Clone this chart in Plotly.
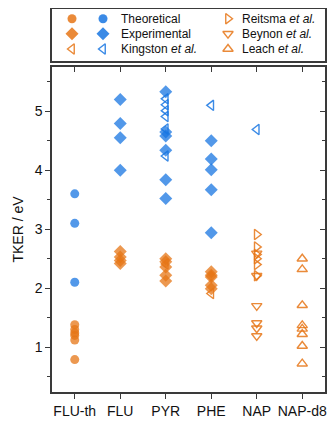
import plotly.graph_objects as go

categories = ["FLU-th", "FLU", "PYR", "PHE", "NAP", "NAP-d8"]
y_ticks = [1, 2, 3, 4, 5]

# Theoretical (circles)
theo_orange_x = ["FLU-th"] * 6
theo_orange_y = [1.38, 1.30, 1.24, 1.20, 1.12, 0.79]
theo_blue_x = ["FLU-th"] * 3
theo_blue_y = [3.60, 3.10, 2.10]

# Experimental (diamonds)
exp_orange_x = ["FLU"] * 4 + ["PYR"] * 5 + ["PHE"] * 5
exp_orange_y = [2.62, 2.53, 2.47, 2.42,
                2.50, 2.45, 2.36, 2.22, 2.12,
                2.28, 2.22, 2.19, 2.05, 1.99]
exp_blue_x = ["FLU"] * 4 + ["PYR"] * 6 + ["PHE"] * 5
exp_blue_y = [5.20, 4.79, 4.55, 4.00,
              5.33, 4.65, 4.58, 4.34, 3.84, 3.52,
              4.50, 4.19, 4.01, 3.67, 2.94]

# Kingston et al. (left triangles)
king_orange_x = ["PYR", "PHE"]
king_orange_y = [2.41, 1.91]
king_blue_x = ["PYR"] * 6 + ["PHE", "NAP"]
king_blue_y = [5.21, 5.11, 5.01, 4.91, 4.70, 4.24, 5.10, 4.69]

# Reitsma et al. (right triangles)
reit_x = ["NAP"] * 6
reit_y = [2.91, 2.70, 2.57, 2.50, 2.40, 2.21]

# Beynon et al. (down triangles)
beyn_x = ["NAP"] * 6
beyn_y = [2.59, 2.21, 1.70, 1.41, 1.32, 1.19]

# Leach et al. (up triangles)
leach_x = ["NAP-d8"] * 8
leach_y = [2.50, 2.32, 1.71, 1.37, 1.31, 1.22, 1.02, 0.72]

ORANGE = "rgb(230,118,22)"
BLUE = "rgb(24,118,226)"
OP = 0.75
FONT = "Liberation Sans, Arial, sans-serif"
FRAME = "#3a3a3a"

fig = go.Figure()


def filled(x, y, color, symbol, size):
    fig.add_trace(go.Scatter(x=x, y=y, mode="markers", showlegend=False,
                             marker=dict(color=color, symbol=symbol, size=size,
                                         opacity=OP, line=dict(width=0)),
                             xaxis="x", yaxis="y"))


def hollow(x, y, color, symbol, size=9):
    fig.add_trace(go.Scatter(x=x, y=y, mode="markers", showlegend=False,
                             marker=dict(color=color, symbol=symbol + "-open", size=size,
                                         opacity=0.85, line=dict(width=1.4, color=color)),
                             xaxis="x", yaxis="y"))


filled(theo_blue_x, theo_blue_y, BLUE, "circle", 9)
filled(theo_orange_x, theo_orange_y, ORANGE, "circle", 9)
filled(exp_blue_x, exp_blue_y, BLUE, "diamond", 10)
filled(exp_orange_x, exp_orange_y, ORANGE, "diamond", 10)
hollow(king_blue_x, king_blue_y, BLUE, "triangle-left")
hollow(king_orange_x, king_orange_y, ORANGE, "triangle-left")
hollow(reit_x, reit_y, ORANGE, "triangle-right")
hollow(beyn_x, beyn_y, ORANGE, "triangle-down")
hollow(leach_x, leach_y, ORANGE, "triangle-up")

# invisible trace so the mirrored (inward-tick) axes are drawn
fig.add_trace(go.Scatter(x=categories, y=[None] * len(categories), mode="markers",
                         showlegend=False, hoverinfo="skip",
                         marker=dict(opacity=0), xaxis="x2", yaxis="y2"))

# ---- legend (key drawn in its own small axis box) ----
leg_rows = [18.7, 33.7, 49.0]
leg_col1, leg_col2, leg_col3 = 72, 103, 228
leg_text1, leg_text3 = 119, 240
leg_left = [("circle", None), ("diamond", None), ("triangle-left-open", 1.4)]
leg_mid_labels = ["Theoretical", "Experimental", "Kingston <i>et al.</i>"]
leg_right = ["triangle-right-open", "triangle-down-open", "triangle-up-open"]
leg_right_labels = ["Reitsma <i>et al.</i>", "Beynon <i>et al.</i>", "Leach <i>et al.</i>"]

for (sym, lw), ry in zip(leg_left, leg_rows):
    for cx, col in ((leg_col1, ORANGE), (leg_col2, BLUE)):
        size = 10 if sym == "diamond" else 9
        fig.add_trace(go.Scatter(x=[cx], y=[ry], mode="markers", showlegend=False,
                                 hoverinfo="skip", xaxis="x3", yaxis="y3",
                                 marker=dict(symbol=sym, color=col, size=size, opacity=0.85,
                                             line=dict(width=lw or 0, color=col))))
for sym, ry in zip(leg_right, leg_rows):
    fig.add_trace(go.Scatter(x=[leg_col3], y=[ry], mode="markers", showlegend=False,
                             hoverinfo="skip", xaxis="x3", yaxis="y3",
                             marker=dict(symbol=sym, color=ORANGE, size=9, opacity=0.85,
                                         line=dict(width=1.4, color=ORANGE))))

annotations = []
for lab, ry in zip(leg_mid_labels, leg_rows):
    annotations.append(dict(x=leg_text1, y=ry, xref="x3", yref="y3", text=lab,
                            showarrow=False, xanchor="left", yanchor="middle",
                            font=dict(family=FONT, size=12, color="#111")))
for lab, ry in zip(leg_right_labels, leg_rows):
    annotations.append(dict(x=leg_text3, y=ry, xref="x3", yref="y3", text=lab,
                            showarrow=False, xanchor="left", yanchor="middle",
                            font=dict(family=FONT, size=12, color="#111")))

# the page body adds an 8px offset, so the figure is sized to fit the window
W, H = 328, 417
ML, MR, MT, MB = 44, 11, 1, 33
plot_h = H - MT - MB
main_top = (392 - 67) / plot_h
leg_bottom = (392 - 61) / plot_h

tickfont = dict(family=FONT, size=14, color="#111")
xr = [-0.5, 5.5]
yr = [0.24, 5.75]

fig.update_layout(
    width=W, height=H,
    margin=dict(l=ML, r=MR, t=MT, b=MB, autoexpand=False),
    paper_bgcolor="white", plot_bgcolor="white",
    showlegend=False,
    annotations=annotations,
    xaxis=dict(type="category", categoryorder="array", categoryarray=categories,
               range=xr, domain=[0, 1], anchor="y",
               showline=True, linecolor=FRAME, linewidth=1.5,
               ticks="outside", ticklen=5, tickwidth=1.2, tickcolor=FRAME,
               showgrid=False, zeroline=False, tickfont=tickfont),
    yaxis=dict(range=yr, domain=[0, main_top], anchor="x",
               tickvals=y_ticks, showline=True, linecolor=FRAME, linewidth=1.5,
               ticks="outside", ticklen=5, tickwidth=1.2, tickcolor=FRAME,
               minor=dict(dtick=0.5, tick0=0, ticks="outside", ticklen=3,
                          tickwidth=1.2, tickcolor=FRAME),
               showgrid=False, zeroline=False, tickfont=tickfont,
               title=dict(text="TKER / eV", font=dict(family=FONT, size=14, color="#111"),
                          standoff=8)),
    xaxis2=dict(type="category", categoryorder="array", categoryarray=categories,
                range=xr, overlaying="x", side="top", anchor="y2",
                showline=True, linecolor=FRAME, linewidth=1.5,
                ticks="inside", ticklen=5, tickwidth=1.2, tickcolor=FRAME,
                showticklabels=False, showgrid=False, zeroline=False),
    yaxis2=dict(range=yr, overlaying="y", side="right", anchor="x2",
                tickvals=y_ticks, showline=True, linecolor=FRAME, linewidth=1.5,
                ticks="inside", ticklen=5, tickwidth=1.2, tickcolor=FRAME,
                minor=dict(dtick=0.5, tick0=0, ticks="inside", ticklen=3,
                           tickwidth=1.2, tickcolor=FRAME),
                showticklabels=False, showgrid=False, zeroline=False),
    xaxis3=dict(range=[52, 325], domain=[0, 1], anchor="y3",
                showline=True, mirror=True, linecolor=FRAME, linewidth=1.5,
                ticks="", showticklabels=False, showgrid=False, zeroline=False),
    yaxis3=dict(range=[61, 9], domain=[leg_bottom, 1], anchor="x3",
                showline=True, mirror=True, linecolor=FRAME, linewidth=1.5,
                ticks="", showticklabels=False, showgrid=False, zeroline=False),
)

fig.write_html("out.html")
